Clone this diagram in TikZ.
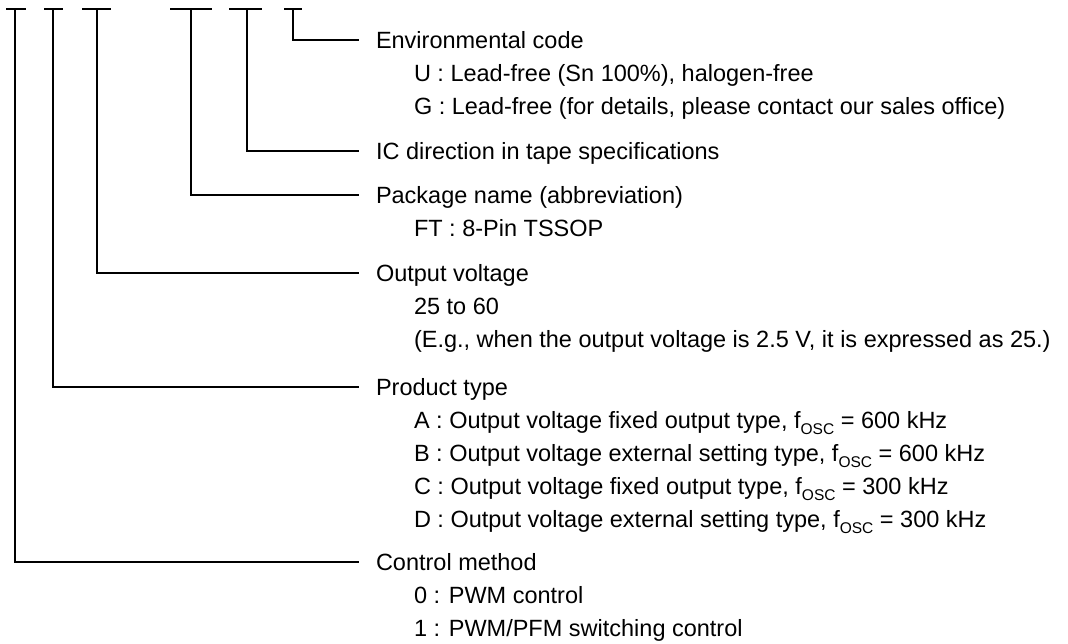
\documentclass[tikz,border=0pt]{standalone}
\usepackage{fontspec}
\setmainfont{Liberation Sans}
\newcommand{\fosc}{f\raisebox{-0.28em}{\fontsize{15.5}{15.5}\selectfont OSC}}
\begin{document}
\begin{tikzpicture}[x=1pt,y=-1pt,line width=2pt,
  txt/.style={anchor=base west,inner sep=0pt,font=\fontsize{23.5}{33}\selectfont},
  conn/.style={line width=2pt}]
\useasboundingbox (0,0) rectangle (1068,643);
% stem tops
\coordinate (t1) at (15,9);
\coordinate (t2) at (53,9);
\coordinate (t3) at (97,9);
\coordinate (t4) at (191,9);
\coordinate (t5) at (247,9);
\coordinate (t6) at (293,9);
% line ends
\coordinate (e6) at (359,40);
\coordinate (e5) at (359,151);
\coordinate (e4) at (359,195);
\coordinate (e3) at (359,273);
\coordinate (e2) at (359,387);
\coordinate (e1) at (359,562);
% T bars
\draw[conn] ([xshift=-9pt]t1) -- ([xshift=11pt]t1);
\draw[conn] ([xshift=-9pt]t2) -- ([xshift=10pt]t2);
\draw[conn] ([xshift=-15pt]t3) -- ([xshift=14pt]t3);
\draw[conn] ([xshift=-21pt]t4) -- ([xshift=21pt]t4);
\draw[conn] ([xshift=-18pt]t5) -- ([xshift=15pt]t5);
\draw[conn] ([xshift=-9pt]t6) -- ([xshift=9pt]t6);
% connectors
\draw[conn] (t6) |- (e6);
\draw[conn] (t5) |- (e5);
\draw[conn] (t4) |- (e4);
\draw[conn] (t3) |- (e3);
\draw[conn] (t2) |- (e2);
\draw[conn] (t1) |- (e1);
% texts
\node[txt] (env) at (375,48) {Environmental code};
\node[txt] (envu) at (413,81) {U : Lead-free (Sn 100\%), halogen-free};
\node[txt] (envg) at (413,114) {G : Lead-free (for details, please contact our sales office)};
\node[txt] (ic) at (375,159) {IC direction in tape specifications};
\node[txt] (pkg) at (375,203) {Package name (abbreviation)};
\node[txt] (pkgft) at (413,236) {FT : 8-Pin TSSOP};
\node[txt] (ov) at (375,281) {Output voltage};
\node[txt] (ovr) at (413,314) {25 to 60};
\node[txt] (ove) at (413,347) {(E.g., when the output voltage is 2.5 V, it is expressed as 25.)};
\node[txt] (pt) at (375,395) {Product type};
\node[txt] (pta) at (413,428) {A : Output voltage fixed output type, \fosc{} = 600 kHz};
\node[txt] (ptb) at (413,461) {B : Output voltage external setting type, \fosc{} = 600 kHz};
\node[txt] (ptc) at (413,494) {C : Output voltage fixed output type, \fosc{} = 300 kHz};
\node[txt] (ptd) at (413,527) {D : Output voltage external setting type, \fosc{} = 300 kHz};
\node[txt] (cm) at (375,570) {Control method};
\node[txt] (cm0) at (413,603) {0 : PWM control};
\node[txt] (cm1) at (413,636) {1 : PWM/PFM switching control};
\end{tikzpicture}
\end{document}
